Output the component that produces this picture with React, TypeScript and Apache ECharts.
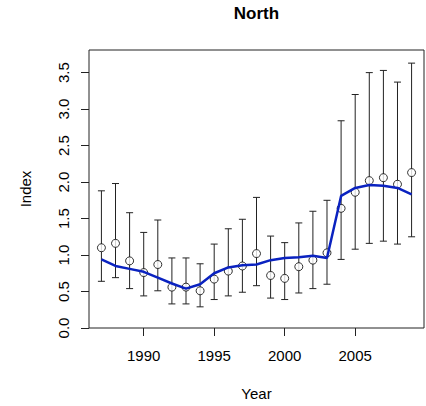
import React, { useEffect, useRef } from "react";
import * as echarts from "echarts";

// Annual index estimates for the North region with confidence limits and a smoothed trend
const years = [1987, 1988, 1989, 1990, 1991, 1992, 1993, 1994, 1995, 1996, 1997, 1998, 1999, 2000, 2001, 2002, 2003, 2004, 2005, 2006, 2007, 2008, 2009];
const indexValues = [1.10, 1.16, 0.92, 0.76, 0.87, 0.56, 0.56, 0.51, 0.67, 0.78, 0.85, 1.02, 0.72, 0.68, 0.84, 0.93, 1.03, 1.64, 1.86, 2.02, 2.06, 1.97, 2.13];
const upperLimits = [1.88, 1.98, 1.58, 1.31, 1.48, 0.96, 0.96, 0.88, 1.15, 1.36, 1.49, 1.79, 1.26, 1.17, 1.44, 1.60, 1.75, 2.84, 3.20, 3.50, 3.53, 3.37, 3.63];
const lowerLimits = [0.64, 0.69, 0.54, 0.44, 0.51, 0.33, 0.33, 0.29, 0.39, 0.44, 0.49, 0.58, 0.41, 0.39, 0.48, 0.54, 0.60, 0.94, 1.08, 1.16, 1.19, 1.15, 1.25];
const trend = [0.94, 0.85, 0.81, 0.77, 0.69, 0.61, 0.54, 0.60, 0.75, 0.83, 0.86, 0.87, 0.93, 0.96, 0.97, 0.99, 0.96, 1.81, 1.92, 1.96, 1.95, 1.92, 1.83];

const xTicks = [1990, 1995, 2000, 2005];
const yTicks = [0, 0.5, 1.0, 1.5, 2.0, 2.5, 3.0, 3.5];

const FONT = "'Liberation Sans', Arial, sans-serif";

export default function App() {
  const ref = useRef<HTMLDivElement>(null);

  useEffect(() => {
    if (!ref.current) return;
    const chart = echarts.init(ref.current, undefined, { renderer: "svg" });

    const errData = years.map((y, i) => [y, lowerLimits[i], upperLimits[i]]);
    const pointData = years.map((y, i) => [y, indexValues[i]]);
    const trendData = years.map((y, i) => [y, trend[i]]);

    const option: any = {
      animation: false,
      backgroundColor: "#ffffff",
      textStyle: { fontFamily: FONT },
      graphic: [
        {
          type: "text",
          x: 256.5,
          y: 13,
          style: {
            text: "North",
            fontFamily: FONT,
            fontSize: 17,
            fontWeight: "bold",
            fill: "#000",
            textAlign: "center",
            textVerticalAlign: "middle",
          },
        },
      ],
      grid: {
        left: 89,
        right: 2,
        top: 50,
        bottom: 76.5,
        show: true,
        borderColor: "#222",
        borderWidth: 1,
        backgroundColor: "transparent",
      },
      xAxis: {
        type: "value",
        min: 1986.12,
        max: 2009.88,
        name: "Year",
        nameLocation: "middle",
        nameGap: 58,
        nameTextStyle: { fontFamily: FONT, fontSize: 15, color: "#000" },
        axisLine: { show: false },
        splitLine: { show: false },
        axisTick: {
          show: true,
          length: 8,
          customValues: xTicks,
          lineStyle: { color: "#222", width: 1 },
        },
        axisLabel: {
          customValues: xTicks,
          margin: 20,
          fontFamily: FONT,
          fontSize: 15,
          color: "#000",
          formatter: (v: number) => String(v),
        },
      },
      yAxis: {
        type: "value",
        min: 0,
        max: 3.81,
        name: "Index",
        nameLocation: "middle",
        nameGap: 56,
        nameRotate: 90,
        nameTextStyle: { fontFamily: FONT, fontSize: 15, color: "#000" },
        axisLine: { show: false },
        splitLine: { show: false },
        axisTick: {
          show: true,
          length: 8,
          customValues: yTicks,
          lineStyle: { color: "#222", width: 1 },
        },
        axisLabel: {
          customValues: yTicks,
          rotate: 90,
          margin: 18,
          fontFamily: FONT,
          fontSize: 15,
          color: "#000",
          formatter: (v: number) => v.toFixed(1),
        },
      },
      series: [
        {
          type: "custom",
          name: "limits",
          z: 2,
          data: errData,
          encode: { x: 0, y: [1, 2] },
          renderItem: (params: any, api: any) => {
            const x = api.value(0);
            const lo = api.coord([x, api.value(1)]);
            const hi = api.coord([x, api.value(2)]);
            const hw = 3.5;
            const style = { stroke: "#222", lineWidth: 1 };
            return {
              type: "group",
              children: [
                { type: "line", shape: { x1: lo[0], y1: lo[1], x2: hi[0], y2: hi[1] }, style },
                { type: "line", shape: { x1: lo[0] - hw, y1: lo[1], x2: lo[0] + hw, y2: lo[1] }, style },
                { type: "line", shape: { x1: hi[0] - hw, y1: hi[1], x2: hi[0] + hw, y2: hi[1] }, style },
              ],
            };
          },
        },
        {
          type: "scatter",
          name: "Index",
          z: 3,
          data: pointData,
          symbol: "circle",
          symbolSize: 8,
          itemStyle: { color: "#ffffff", borderColor: "#000", borderWidth: 1 },
        },
        {
          type: "line",
          name: "Trend",
          z: 4,
          data: trendData,
          showSymbol: false,
          lineStyle: { color: "#0a22c0", width: 2.5 },
        },
      ],
    };

    chart.setOption(option);
    return () => chart.dispose();
  }, []);

  return (
    <div
      ref={ref}
      style={{ position: "fixed", left: 0, top: 0, width: 426, height: 406 }}
    />
  );
}
